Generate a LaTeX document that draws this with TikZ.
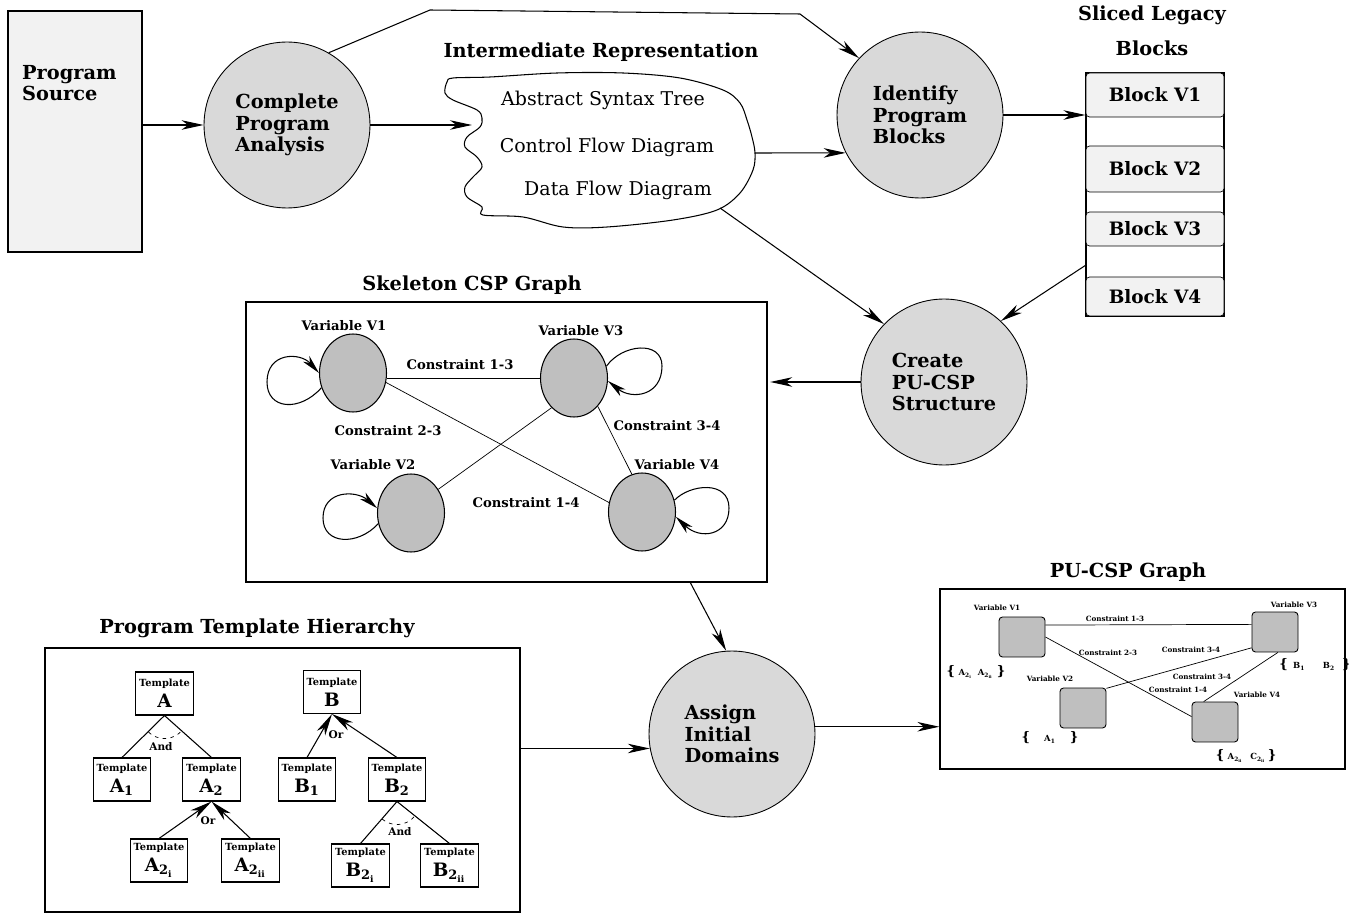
\documentclass[tikz,border=0pt]{standalone}
\usepackage{fontspec}
\setmainfont{DejaVu Serif}
\usepackage{tikz}
\usetikzlibrary{shapes.geometric, arrows.meta, positioning}

\definecolor{procgray}{gray}{0.85}
\definecolor{vargray}{gray}{0.75}
\definecolor{srcgray}{gray}{0.95}

\begin{document}
\begin{tikzpicture}[
  x=0.02cm, y=-0.02cm,
  proc/.style={circle, draw=black, line width=0.5pt, fill=procgray,
              minimum size=3.32cm, inner sep=0pt, align=left,
              font=\bfseries\fontsize{11}{12.2}\selectfont},
  srcbox/.style={rectangle, draw=black, line width=0.6pt, fill=srcgray,
              minimum width=2.68cm, minimum height=4.82cm},
  blockbox/.style={rectangle, draw=black, rounded corners=2pt, fill=srcgray,
              minimum width=2.76cm, inner sep=0pt,
              font=\bfseries\fontsize{10.5}{12}\selectfont},
  panel/.style={rectangle, draw=black, line width=0.7pt},
  title/.style={font=\bfseries\fontsize{11}{13}\selectfont},
  bigtext/.style={font=\bfseries\fontsize{11}{12.2}\selectfont, align=left},
  cloudtext/.style={font=\fontsize{10.8}{12}\selectfont},
  var/.style={ellipse, draw=black, line width=0.6pt, fill=vargray,
              minimum width=1.34cm, minimum height=1.56cm, inner sep=0pt},
  varlabel/.style={font=\bfseries\fontsize{7.5}{8}\selectfont},
  pvar/.style={rectangle, rounded corners=2pt, draw=black, line width=0.5pt,
              fill=vargray, minimum width=0.92cm, minimum height=0.8cm, inner sep=0pt},
  plabel/.style={font=\bfseries\fontsize{4.1}{4.5}\selectfont},
  domlabel/.style={font=\bfseries\fontsize{4.8}{5}\selectfont},
  tmpl/.style={rectangle, draw=black, line width=0.6pt, minimum width=1.15cm,
              minimum height=0.86cm, inner sep=1pt, align=center, font=\bfseries},
  treelabel/.style={font=\bfseries\fontsize{6}{6.5}\selectfont},
  arrow/.style={-{Stealth[length=4.4mm, width=1.9mm, inset=1.3mm]}, line width=0.6pt},
  selfloop/.style={-{Stealth[length=3.8mm, width=1.7mm, inset=1.1mm]}, line width=0.6pt},
  link/.style={line width=0.4pt},
  andarc/.style={dash pattern=on 2pt off 2.5pt, line width=0.4pt}
]
\useasboundingbox (0,0) rectangle (1349,915);

% ---- top row ----
\node[srcbox] (src) at (75,131.5) {};
\node[bigtext, anchor=north west] (srctext) at (16,59) {Program\\Source};

\node[proc] (cpa) at (287,125) {Complete\\Program\\Analysis};

\node[title] (irtitle) at (601,52) {Intermediate Representation};
\draw[line width=0.6pt] plot[smooth cycle, tension=0.55] coordinates {
  (447,82) (445,93) (453,100) (477,110) (482,118) (480,127) (467,137)
  (465,147) (477,157) (482,167) (473,177) (465,187) (467,197) (482,207)
  (483,215) (523,217) (563,227) (607,227) (673,220) (717,210) (740,193)
  (753,170) (755,153) (752,137) (747,120) (740,103) (723,90) (680,78)
  (623,73) (557,73) (490,77) (453,78)};
\coordinate (irin) at (472,125);
\coordinate (irout) at (755,153);
\coordinate (irlow) at (720,208);
\node[cloudtext] (ast) at (603,100) {Abstract Syntax Tree};
\node[cloudtext] (cfd) at (607,147) {Control Flow Diagram};
\node[cloudtext] (dfd) at (618,190) {Data Flow Diagram};

\node[proc] (ipb) at (920,115) {Identify\\Program\\Blocks};

\node[title] (sltitle) at (1152,15) {Sliced Legacy};
\node[title] (sltitle2) at (1152,48) {Blocks};
\node[draw=black, line width=0.6pt, minimum width=2.76cm, minimum height=4.86cm,
      inner sep=0pt] (stack) at (1155,194.5) {};
\node[blockbox, minimum height=0.88cm] (b1) at (1155,95) {Block V1};
\node[blockbox, minimum height=0.92cm] (b2) at (1155,169) {Block V2};
\node[blockbox, minimum height=0.68cm] (b3) at (1155,229) {Block V3};
\node[blockbox, minimum height=0.78cm] (b4) at (1155,296.5) {Block V4};
\coordinate (stackout) at (1086,265);

\node[proc] (cps) at (944,382) {Create\\PU-CSP\\Structure};

\draw[arrow] (src.east |- cpa) -- (cpa);
\draw[arrow] (cpa.east) -- (irin);
\draw[arrow] (cpa.60) -- (430,10) -- (800,14) -- (ipb.137);
\draw[arrow] (irout) -- (ipb.207);
\draw[arrow] (ipb) -- (ipb -| stack.west);
\draw[arrow] (irlow) -- (cps.136);
\draw[arrow] (stackout) -- (cps.47);

% ---- skeleton CSP graph ----
\node[title] (sktitle) at (472,285) {Skeleton CSP Graph};
\node[panel, minimum width=10.42cm, minimum height=5.6cm] (skel) at (506.5,442) {};
\draw[arrow, shorten >=1.5pt] (cps) -- (cps -| skel.east);

\node[var] (v1) at (353,373) {};
\node[var] (v3) at (574,378) {};
\node[var] (v2) at (411,513) {};
\node[var] (v4) at (642,512) {};
\node[varlabel] (v1lab) at (344,326) {Variable V1};
\node[varlabel] (v3lab) at (581,331) {Variable V3};
\node[varlabel] (v2lab) at (373,465) {Variable V2};
\node[varlabel] (v4lab) at (677,465) {Variable V4};
\node[varlabel] (c13) at (460,365) {Constraint 1-3};
\node[varlabel] (c23) at (388,431) {Constraint 2-3};
\node[varlabel] (c34) at (667,426) {Constraint 3-4};
\node[varlabel] (c14) at (526,503) {Constraint 1-4};

\draw[link] (v1.east |- v3.west) -- (v3.west);
\draw[link] (v1.344) -- (v4.164);
\draw[link] (v3.233) -- (v2.41);
\draw[link] (v3.310) -- (v4.105);

\draw[selfloop] (v1.205) .. controls (300,412) and (267,410) .. (267,382)
  .. controls (267,352) and (300,352) .. (v1.180);
\draw[selfloop] (v2.198) .. controls (358,546) and (323,545) .. (323,518)
  .. controls (323,490) and (356,490) .. (v2.172);
\draw[selfloop] (v3.20) .. controls (622,344) and (662,340) .. (662,366)
  .. controls (662,396) and (632,400) .. (v3.355);
\draw[selfloop] (v4.20) .. controls (690,484) and (729,480) .. (729,508)
  .. controls (729,536) and (700,540) .. (v4.352);

% ---- assign ----
\node[proc] (aid) at (732,734) {Assign\\Initial\\Domains};
\coordinate (skelout) at (690,582);
\draw[arrow] (skelout) -- (aid.94);

% ---- template hierarchy ----
\node[title] (pttitle) at (257,628) {Program Template Hierarchy};
\node[panel, minimum width=9.5cm, minimum height=5.28cm] (tpanel) at (282.5,780) {};

\node[tmpl] (ta) at (164.5,693.5) {{\fontsize{5.6}{6.5}\selectfont Template}\\{\fontsize{10.5}{11.5}\selectfont A}};
\node[tmpl] (tb) at (332,692) {{\fontsize{5.6}{6.5}\selectfont Template}\\{\fontsize{10.5}{11.5}\selectfont B}};
\node[tmpl] (ta1) at (122,779.5) {{\fontsize{5.6}{6.5}\selectfont Template}\\{\fontsize{10.5}{11.5}\selectfont A\textsubscript{1}}};
\node[tmpl] (ta2) at (211.5,779.5) {{\fontsize{5.6}{6.5}\selectfont Template}\\{\fontsize{10.5}{11.5}\selectfont A\textsubscript{2}}};
\node[tmpl] (tb1) at (307,779.5) {{\fontsize{5.6}{6.5}\selectfont Template}\\{\fontsize{10.5}{11.5}\selectfont B\textsubscript{1}}};
\node[tmpl] (tb2) at (397,779.5) {{\fontsize{5.6}{6.5}\selectfont Template}\\{\fontsize{10.5}{11.5}\selectfont B\textsubscript{2}}};
\node[tmpl] (ta2i) at (159,860.5) {{\fontsize{5.6}{6.5}\selectfont Template}\\{\fontsize{10.5}{11.5}\selectfont A\textsubscript{2\textsubscript{i}}}};
\node[tmpl] (ta2ii) at (250.5,860.5) {{\fontsize{5.6}{6.5}\selectfont Template}\\{\fontsize{10.5}{11.5}\selectfont A\textsubscript{2\textsubscript{ii}}}};
\node[tmpl] (tb2i) at (360.5,865.5) {{\fontsize{5.6}{6.5}\selectfont Template}\\{\fontsize{10.5}{11.5}\selectfont B\textsubscript{2\textsubscript{i}}}};
\node[tmpl] (tb2ii) at (449.5,865.5) {{\fontsize{5.6}{6.5}\selectfont Template}\\{\fontsize{10.5}{11.5}\selectfont B\textsubscript{2\textsubscript{ii}}}};

\draw[line width=0.6pt] (ta.south) -- (ta1.north);
\draw[line width=0.6pt] (ta.south) -- (ta2.north);
\draw[andarc] (ta.south) ++(226:0.46cm) arc[start angle=226, end angle=317, radius=0.46cm];
\node[treelabel] (and1) at (161,747) {And};
\draw[arrow] (ta2i.north) -- (ta2.south);
\draw[arrow] (ta2ii.north) -- (ta2.south);
\node[treelabel] (or1) at (208,821) {Or};

\draw[arrow] (tb1.north) -- (tb.south);
\draw[arrow] (tb2.north) -- (tb.south);
\node[treelabel] (or2) at (336,735) {Or};
\draw[line width=0.6pt] (tb2.south) -- (tb2i.north);
\draw[line width=0.6pt] (tb2.south) -- (tb2ii.north);
\draw[andarc] (tb2.south) ++(230:0.46cm) arc[start angle=230, end angle=320, radius=0.46cm];
\node[treelabel] (and2) at (400,832) {And};

\draw[arrow] (tpanel.east |- aid.190) -- (aid.190);

% ---- PU-CSP graph ----
\node[title] (pctitle) at (1128,572) {PU-CSP Graph};
\node[panel, minimum width=8.1cm, minimum height=3.6cm] (pcsp) at (1142.5,679) {};
\draw[arrow] (aid.5) -- (aid.5 -| pcsp.west);

\node[pvar] (p1) at (1022,637) {};
\node[pvar] (p3) at (1275,632) {};
\node[pvar] (p2) at (1083,708) {};
\node[pvar] (p4) at (1215,722) {};
\draw[link] (p1.27) -- (p3.162);
\draw[link] (p1.east) -- (p4.167);
\draw[link] (p3.214) -- (p2.40);
\draw[link] (p3.278) -- (p4.119);

\node[plabel] (p1lab) at (997,608) {Variable V1};
\node[plabel] (p3lab) at (1294,605) {Variable V3};
\node[plabel] (p2lab) at (1050,679) {Variable V2};
\node[plabel] (p4lab) at (1257,695) {Variable V4};
\node[plabel] (pc13) at (1115,619) {Constraint 1-3};
\node[plabel] (pc23) at (1108,653) {Constraint 2-3};
\node[plabel] (pc34a) at (1191,650) {Constraint 3-4};
\node[plabel] (pc34b) at (1202,677) {Constraint 3-4};
\node[plabel] (pc14) at (1178,690) {Constraint 1-4};

\node[domlabel] (dom1) at (976,672) {{\fontsize{7.5}{7.5}\selectfont\{}\hspace{2pt}A\textsubscript{2\textsubscript{i}}\hspace{3pt}A\textsubscript{2\textsubscript{ii}}\hspace{2pt}{\fontsize{7.5}{7.5}\selectfont\}}};
\node[domlabel] (dom3) at (1315,665) {{\fontsize{7.5}{7.5}\selectfont\{}\hspace{3pt}B\textsubscript{1}\hspace{10pt}B\textsubscript{2}\hspace{4pt}{\fontsize{7.5}{7.5}\selectfont\}}};
\node[domlabel] (dom2) at (1050,738) {{\fontsize{7.5}{7.5}\selectfont\{}\hspace{8pt}A\textsubscript{1}\hspace{8pt}{\fontsize{7.5}{7.5}\selectfont\}}};
\node[domlabel] (dom4) at (1246,756) {{\fontsize{7.5}{7.5}\selectfont\{}\hspace{2pt}A\textsubscript{2\textsubscript{ii}}\hspace{4pt}C\textsubscript{2\textsubscript{ii}}\hspace{1pt}{\fontsize{7.5}{7.5}\selectfont\}}};

\end{tikzpicture}
\end{document}
